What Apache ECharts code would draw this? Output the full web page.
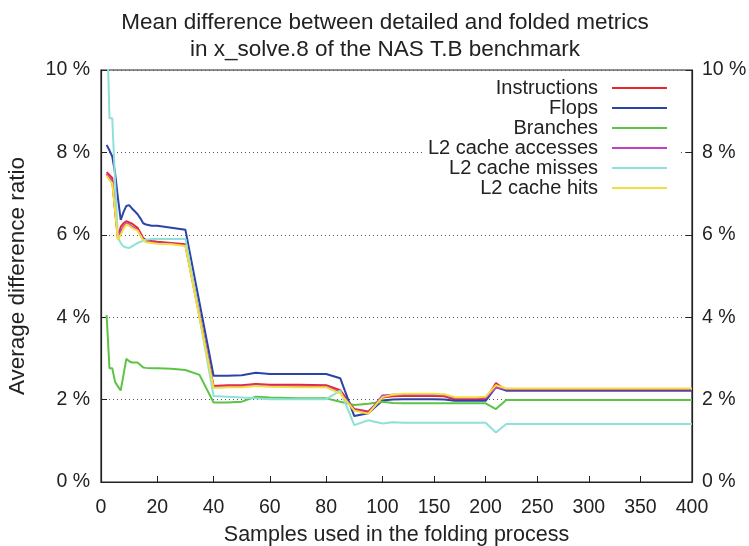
<!DOCTYPE html>
<html>
<head>
<meta charset="utf-8">
<script src="https://cdn.jsdelivr.net/npm/echarts@6/dist/echarts.min.js"></script>
<style>html,body{margin:0;padding:0;background:#fff}#c{width:749px;height:546px}</style>
</head>
<body>
<div id="c"></div>
<script>
// Samples used in the folding process
const samples = [2,3,4,5,6,7,8,9,10,11,12,13,14,15,16,18,20,25,30,35,40,45,50,55,60,70,80,85,90,95,100,110,120,130,140,150,160,170,180,190,200,210,220,250,300,350,400];
const instructions = [7.52,7.45,7.38,6.6,5.94,6.19,6.28,6.33,6.3,6.27,6.22,6.17,6.05,5.92,5.88,5.85,5.83,5.8,5.77,4.05,2.33,2.35,2.35,2.38,2.36,2.36,2.35,2.23,1.77,1.71,2.05,2.08,2.09,2.09,2.09,2.09,2.08,2.0,2.0,2.0,2.0,2.4,2.22,2.22,2.22,2.22,2.22];
const flops = [8.18,8.05,7.9,7.5,6.9,6.36,6.55,6.7,6.72,6.64,6.57,6.5,6.4,6.28,6.25,6.22,6.22,6.17,6.12,4.35,2.58,2.58,2.59,2.65,2.62,2.62,2.62,2.52,1.6,1.67,1.98,2.0,2.01,2.01,2.01,2.01,2.0,1.97,1.97,1.97,1.97,2.3,2.22,2.22,2.22,2.22,2.22];
const branches = [4.05,2.76,2.76,2.43,2.32,2.22,2.6,2.99,2.93,2.9,2.9,2.9,2.84,2.78,2.77,2.76,2.76,2.75,2.72,2.6,1.93,1.93,1.95,2.07,2.05,2.03,2.03,1.95,1.87,1.9,1.95,1.92,1.91,1.91,1.91,1.91,1.91,1.91,1.91,1.91,1.91,1.77,1.99,1.99,1.99,1.99,1.99];
const l2Accesses = [7.48,7.38,7.3,6.6,5.9,6.08,6.2,6.28,6.25,6.2,6.16,6.12,6.0,5.88,5.84,5.82,5.8,5.78,5.74,4.02,2.3,2.32,2.32,2.35,2.33,2.32,2.32,2.18,1.75,1.68,2.1,2.12,2.12,2.12,2.12,2.12,2.11,2.04,2.04,2.04,2.04,2.3,2.25,2.25,2.25,2.25,2.25];
const l2Misses = [11.5,8.83,8.83,7.3,5.95,5.8,5.72,5.69,5.68,5.72,5.76,5.8,5.83,5.86,5.88,5.9,5.9,5.9,5.9,4.0,2.09,2.07,2.05,2.03,2.01,2.01,2.01,2.22,1.38,1.5,1.42,1.45,1.44,1.44,1.44,1.44,1.44,1.44,1.44,1.44,1.44,1.2,1.41,1.41,1.41,1.41,1.41];
const l2Hits = [7.43,7.33,7.25,6.6,5.87,6.0,6.15,6.25,6.22,6.17,6.13,6.1,5.98,5.87,5.82,5.8,5.78,5.77,5.73,4.0,2.28,2.3,2.3,2.33,2.31,2.3,2.3,2.15,1.73,1.66,2.06,2.12,2.14,2.14,2.14,2.14,2.13,2.06,2.06,2.06,2.07,2.35,2.27,2.27,2.27,2.27,2.27];
const xTicks = [0,20,40,60,80,100,150,200,250,300,350,400];
const yTicks = [0,2,4,6,8,10];
const seriesNames = ['Instructions','Flops','Branches','L2 cache accesses','L2 cache misses','L2 cache hits'];
const seriesColors = ['#e8262b','#2b44a6','#5cc444','#c23fc2','#8fe0d8','#f0e03c'];

// The x axis is piecewise linear: 0-100 in steps of 20, 100-400 in steps of 50 at a narrower spacing
const K = 110 / 300;
const fwd = x => x <= 100 ? x : 100 + (x - 100) * K;
const inv = t => t <= 100 ? t : 100 + (t - 100) / K;

const seriesValues = [instructions, flops, branches, l2Accesses, l2Misses, l2Hits];
const FONT = 'Liberation Sans, Arial, Helvetica, sans-serif';

const chart = echarts.init(document.getElementById('c'));
chart.setOption({
  animation: false,
  backgroundColor: '#fff',
  title: {
    text: 'Mean difference between detailed and folded metrics\nin x_solve.8 of the NAS T.B benchmark',
    left: 380, top: 4, textAlign: 'center',
    textStyle: { fontFamily: FONT, fontSize: 22.5, fontWeight: 'normal', color: '#222', lineHeight: 27 }
  },
  legend: {
    orient: 'vertical', align: 'right', right: 71, top: 72,
    padding: [6, 11, 6, 5], backgroundColor: '#fff',
    itemGap: 0, itemWidth: 55, itemHeight: 2, icon: 'rect',
    textStyle: { fontFamily: FONT, fontSize: 20, color: '#222', lineHeight: 20, padding: [0, 9, 0, 0] },
    data: seriesNames
  },
  grid: { left: 101, right: 57, top: 70, bottom: 64, outerBoundsMode: 'none', containLabel: false,
    show: true, borderColor: '#222', borderWidth: 1.2, backgroundColor: 'transparent' },
  xAxis: {
    type: 'value', min: 0, max: fwd(400),
    name: 'Samples used in the folding process', nameLocation: 'middle', nameGap: 42,
    nameTextStyle: { fontFamily: FONT, fontSize: 21.5, color: '#222' },
    axisLine: { lineStyle: { color: '#222', width: 1.2 } },
    axisTick: { inside: true, length: 6, lineStyle: { color: '#222' }, customValues: xTicks.map(fwd) },
    axisLabel: { customValues: xTicks.map(fwd), margin: 16, fontFamily: FONT, fontSize: 19.5, color: '#222',
      formatter: v => String(Math.round(inv(v))) },
    splitLine: { show: false }
  },
  yAxis: [{
    type: 'value', min: 0, max: 10, interval: 2, position: 'left',
    name: 'Average difference ratio', nameLocation: 'middle', nameGap: 72, nameRotate: 90,
    nameTextStyle: { fontFamily: FONT, fontSize: 22.5, color: '#222' },
    axisLine: { show: true, lineStyle: { color: '#222', width: 1.2 } },
    axisTick: { show: true, inside: true, length: 6, lineStyle: { color: '#222' }, customValues: yTicks },
    axisLabel: { margin: 11, fontFamily: FONT, fontSize: 19.5, color: '#222', formatter: '{value} %' },
    splitLine: { show: true, lineStyle: { color: '#555', type: [1, 3], width: 1 } }
  }, {
    type: 'value', min: 0, max: 10, interval: 2, position: 'right',
    axisLine: { show: true, lineStyle: { color: '#222', width: 1.2 } },
    axisTick: { show: true, inside: true, length: 6, lineStyle: { color: '#222' } },
    axisLabel: { margin: 10, fontFamily: FONT, fontSize: 19.5, color: '#222', formatter: '{value} %' },
    splitLine: { show: false }
  }],
  series: seriesNames.map((name, k) => ({
    name, type: 'line', yAxisIndex: 0, showSymbol: false, symbol: 'none', clip: true,
    color: seriesColors[k],
    lineStyle: { width: 2, color: seriesColors[k] },
    data: samples.map((x, i) => [fwd(x), seriesValues[k][i]])
  }))
});
</script>
</body>
</html>
